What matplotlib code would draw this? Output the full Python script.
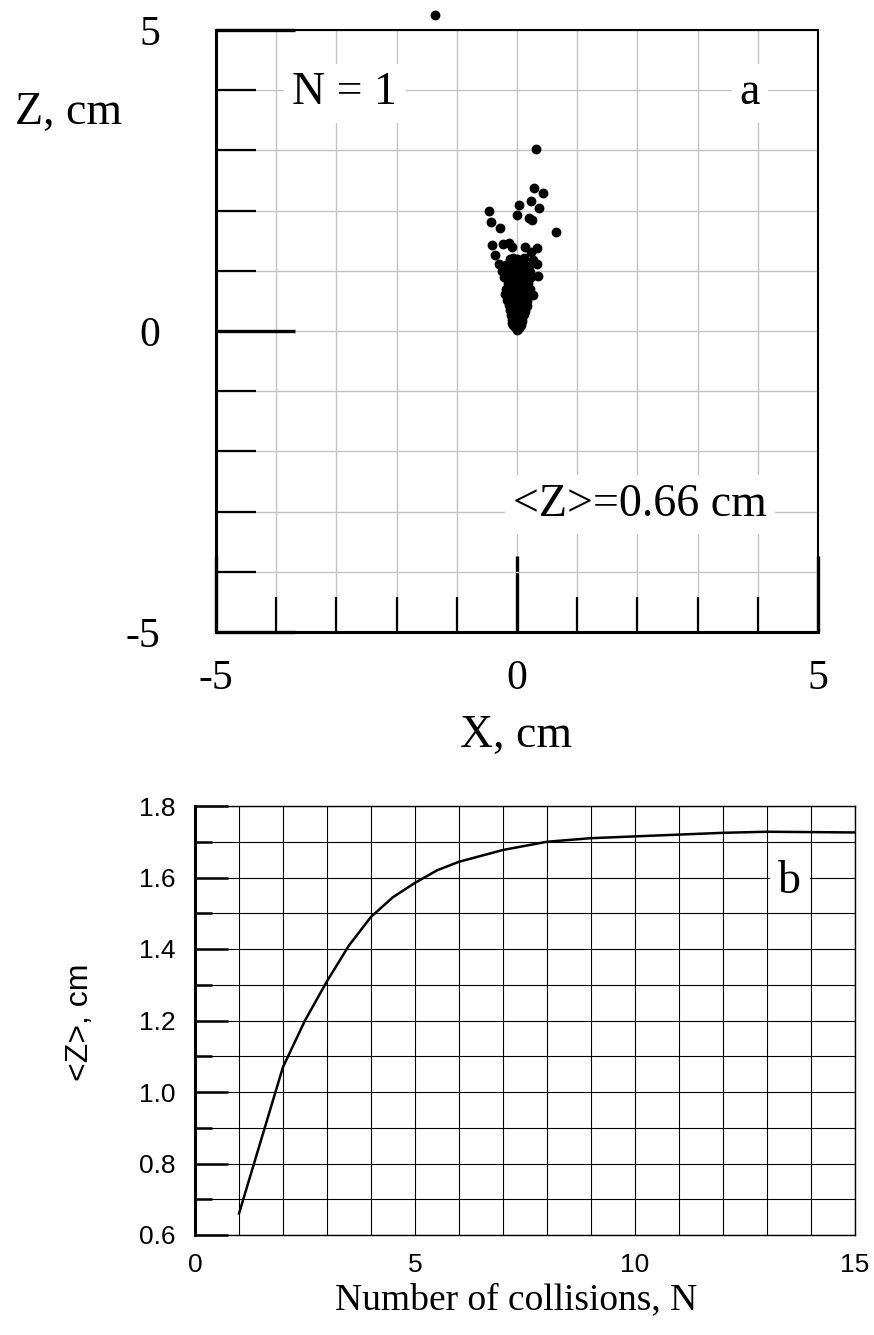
import numpy as np
import matplotlib.pyplot as plt
from matplotlib.ticker import MultipleLocator, FixedLocator

# ---- dados: painel (a), posicoes das particulas apos N = 1 ----
x_pts = [0.32, 0.28, 0.44, 0.24, 0.37, 0.03, -0.47, 0.00, 0.20, 0.25,
         -0.43, -0.28, 0.64, -0.42, -0.23, -0.14, -0.08, 0.14, 0.34, 0.24,
         -0.36, -0.07, -0.30, 0.33, -0.23, 0.35, -0.20, 0.27, -1.36,
         0.00, 0.03, -0.03, -0.06, 0.06, 0.00, -0.08, 0.02, 0.09,
         -0.10, -0.02, 0.06, 0.12, -0.12, -0.04, 0.04, 0.13,
         -0.13, -0.05, 0.03, 0.11, 0.17, -0.16, -0.07, 0.01, 0.09, 0.17,
         -0.14, -0.05, 0.04, 0.12, 0.20, -0.19, -0.10, -0.02, 0.07, 0.15, 0.22,
         -0.15, -0.06, 0.03, 0.11, 0.19, -0.22, -0.12, -0.03, 0.06, 0.15, 0.24,
         -0.25, -0.14, -0.05, 0.05, 0.14, 0.22, -0.18, -0.08, 0.02, 0.11, 0.20,
         -0.12, 0.00, 0.12, 0.26, -0.01, 0.01, 0.08, -0.09]
z_pts = [3.02, 2.38, 2.30, 2.16, 2.05, 2.09, 1.99, 1.93, 1.88, 1.84,
         1.81, 1.71, 1.64, 1.43, 1.45, 1.46, 1.39, 1.40, 1.38, 1.32,
         1.26, 1.21, 1.11, 1.12, 1.04, 0.91, 0.61, 0.60, 5.25,
         0.02, 0.05, 0.06, 0.10, 0.10, 0.12, 0.18, 0.18, 0.17,
         0.26, 0.27, 0.25, 0.28, 0.35, 0.34, 0.36, 0.34,
         0.43, 0.44, 0.42, 0.44, 0.42, 0.52, 0.51, 0.53, 0.52, 0.50,
         0.60, 0.62, 0.60, 0.62, 0.60, 0.70, 0.71, 0.69, 0.70, 0.72, 0.69,
         0.80, 0.79, 0.81, 0.80, 0.79, 0.90, 0.91, 0.89, 0.90, 0.92, 0.89,
         1.00, 0.99, 1.01, 1.00, 1.02, 0.98, 1.10, 1.09, 1.11, 1.10, 1.08,
         1.20, 1.19, 1.21, 1.18, 0.07, 0.14, 0.22, 0.14]

# ---- dados: painel (b), <Z> em funcao do numero de colisoes ----
n_coll = [1, 2, 2.5, 3, 3.5, 4, 4.5, 5, 5.5, 6, 7, 8, 9, 10, 11, 12, 13, 14, 15]
z_mean = [0.66, 1.07, 1.20, 1.31, 1.41, 1.49, 1.545, 1.585, 1.62, 1.644,
          1.677, 1.70, 1.71, 1.715, 1.72, 1.725, 1.728, 1.727, 1.726]

serif = 'Liberation Serif'
sans = 'Liberation Sans'

fig = plt.figure(figsize=(8.74, 13.35), dpi=100)

# ================= painel (a) =================
ax1 = fig.add_axes([216/874, 1 - 632/1335, 602/874, 602/1335])
ax1.set_xlim(-5, 5)
ax1.set_ylim(-5, 5)
ax1.scatter(x_pts, z_pts, s=50, c='k', clip_on=False, zorder=4, linewidths=0)

ax1.xaxis.set_major_locator(FixedLocator([-5, 0, 5]))
ax1.yaxis.set_major_locator(FixedLocator([-5, 0, 5]))
ax1.xaxis.set_minor_locator(MultipleLocator(1))
ax1.yaxis.set_minor_locator(MultipleLocator(1))
ax1.grid(which='both', color='#c4c4c4', linewidth=1.0, zorder=0)
ax1.set_axisbelow(True)

ax1.tick_params(axis='x', which='major', direction='in', length=55, width=2.4,
                pad=20, labelsize=30)
ax1.tick_params(axis='x', which='minor', direction='in', length=25, width=1.6)
ax1.tick_params(axis='y', which='major', direction='in', length=57, width=2.4,
                pad=40, labelsize=30)
ax1.tick_params(axis='y', which='minor', direction='in', length=29, width=1.6)
ax1.set_xticklabels(['-5', '0', '5'])
ax1.set_yticklabels(['-5', '0', '5'])
for lab in ax1.get_xticklabels() + ax1.get_yticklabels():
    lab.set_fontfamily(serif)

for side in ['left', 'bottom']:
    ax1.spines[side].set_linewidth(2.2)
for side in ['right', 'top']:
    ax1.spines[side].set_linewidth(1.5)

box = dict(facecolor='white', edgecolor='none', pad=6)
ax1.text(-2.86, 3.95, 'N = 1', fontsize=33, family=serif, ha='center', va='center', bbox=box, zorder=5)
ax1.text(3.87, 3.95, 'a', fontsize=33, family=serif, ha='center', va='center', bbox=box, zorder=5)
ax1.text(2.04, -2.89, '<Z>=0.66 cm', fontsize=33, family=serif, ha='center', va='center', bbox=box, zorder=5)

fig.text(69/874, 1 - 113/1335, 'Z, cm', fontsize=33, family=serif, ha='center', va='center')
fig.text(516/874, 1 - 736/1335, 'X, cm', fontsize=33, family=serif, ha='center', va='center')

# ================= painel (b) =================
ax2 = fig.add_axes([195/874, 100/1335, 660/874, 429/1335])
ax2.plot(n_coll, z_mean, color='k', linewidth=1.8, zorder=3)
ax2.set_xlim(0, 15)
ax2.set_ylim(0.6, 1.8)
ax2.xaxis.set_major_locator(FixedLocator([0, 5, 10, 15]))
ax2.xaxis.set_minor_locator(MultipleLocator(1))
ax2.yaxis.set_major_locator(MultipleLocator(0.2))
ax2.yaxis.set_minor_locator(MultipleLocator(0.1))
ax2.yaxis.set_major_formatter(plt.FormatStrFormatter('%.1f'))
ax2.grid(which='both', color='k', linewidth=0.8, zorder=0)
ax2.set_axisbelow(True)

ax2.tick_params(axis='x', which='both', length=0, pad=13, labelsize=19)
ax2.tick_params(axis='y', which='major', direction='in', length=24, width=1.8,
                pad=14, labelsize=19)
ax2.tick_params(axis='y', which='minor', direction='in', length=12, width=1.8)
for lab in ax2.get_xticklabels() + ax2.get_yticklabels():
    lab.set_fontfamily(sans)
ax2.spines['left'].set_linewidth(2.2)
for side in ['right', 'top', 'bottom']:
    ax2.spines[side].set_linewidth(1.0)

ax2.text(13.52, 1.587, 'b', fontsize=33, family=serif, ha='center', va='center', bbox=box, zorder=5)

fig.text(80/874, 1 - 1022/1335, '<Z>, cm', fontsize=23, family=sans, rotation=90,
         ha='center', va='center')
fig.text(516/874, 1 - 1300/1335, 'Number of collisions, N', fontsize=27, family=serif,
         ha='center', va='center')

fig.savefig('out.png', dpi=100)
